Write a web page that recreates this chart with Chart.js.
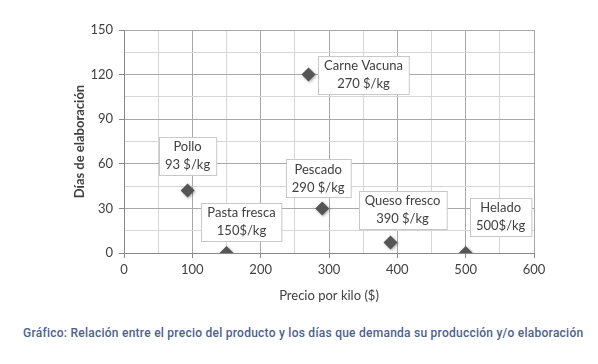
<!DOCTYPE html>
<html><head><meta charset="utf-8">
<script src="https://cdn.jsdelivr.net/npm/chart.js@4.4.1/dist/chart.umd.min.js"></script>
<style>
html,body{margin:0;padding:0;background:#fff;width:598px;height:364px;overflow:hidden}
#wrap{position:absolute;left:0;top:0;width:598px;height:310px}
#cap{position:absolute;left:23px;top:326px;font-family:Roboto,sans-serif;font-size:12px;font-weight:500;letter-spacing:0.25px;color:#4d6190;white-space:nowrap}
</style></head><body>
<div id="wrap"><canvas id="c" width="598" height="310"></canvas></div>
<div id="cap">Gráfico: Relación entre el precio del producto y los días que demanda su producción y/o elaboración</div>
<script>
const products = ['Carne Vacuna','Pollo','Pasta fresca','Pescado','Queso fresco','Helado'];
const priceLabels = ['270 $/kg','93 $/kg','150$/kg','290 $/kg','390 $/kg','500$/kg'];
const prices = [270, 93, 150, 290, 390, 500];
const days = [120, 42, 0, 30, 7, 0];
const xTickValues = [0, 100, 200, 300, 400, 500, 600];
const yTickValues = [0, 30, 60, 90, 120, 150];

// label box offsets (style, pixels relative to marker)
const labelOffsets = [[55,0],[0,-35],[15,-31],[-4,-30],[12,-33],[35,-36]];

const FONT = 'Lato, "Open Sans", sans-serif';
const TXT = '#404040';

const labelPlugin = {
  id: 'boxLabels',
  afterDatasetsDraw(chart) {
    const ctx = chart.ctx;
    const xs = chart.scales.x, ys = chart.scales.y;
    ctx.save();
    ctx.font = '13px ' + FONT;
    ctx.textAlign = 'center';
    ctx.textBaseline = 'middle';
    prices.forEach((p, i) => {
      const px = xs.getPixelForValue(p), py = ys.getPixelForValue(days[i]);
      const cx = px + labelOffsets[i][0], cy = py + labelOffsets[i][1];
      const w = Math.max(ctx.measureText(products[i]).width, ctx.measureText(priceLabels[i]).width) + 12;
      const h = 38;
      const l = Math.round(cx - w/2) + 0.5, t = Math.round(cy - h/2) + 0.5;
      ctx.fillStyle = '#fff';
      ctx.fillRect(l, t, w, h);
      ctx.strokeStyle = '#c8c8c8';
      ctx.lineWidth = 1;
      ctx.strokeRect(l, t, w, h);
      ctx.fillStyle = TXT;
      ctx.fillText(products[i], cx, cy - 9);
      ctx.fillText(priceLabels[i], cx, cy + 9);
    });
    ctx.restore();
  }
};

const shadowPlugin = {
  id: 'shadow',
  beforeDatasetDraw(chart) {
    const ctx = chart.ctx;
    ctx.save();
    ctx.shadowColor = 'rgba(0,0,0,0.35)';
    ctx.shadowBlur = 3;
    ctx.shadowOffsetX = 1;
    ctx.shadowOffsetY = 1;
  },
  afterDatasetDraw(chart) { chart.ctx.restore(); }
};

new Chart(document.getElementById('c'), {
  type: 'scatter',
  data: {
    datasets: [{
      data: prices.map((p, i) => ({x: p, y: days[i]})),
      pointStyle: 'rectRot',
      pointRadius: 7,
      pointHoverRadius: 7,
      backgroundColor: '#555555',
      borderColor: '#555555',
      borderWidth: 0
    }]
  },
  options: {
    responsive: false,
    animation: false,
    events: [],
    layout: { padding: { top: 30, right: 64, left: 0, bottom: 0 } },
    plugins: { legend: { display: false }, tooltip: { enabled: false } },
    scales: {
      x: {
        type: 'linear', min: 0, max: 600,
        afterFit(s) { s.height = 57; },
        ticks: {
          stepSize: 50, color: TXT, font: { family: FONT, size: 13 }, padding: 4,
          callback: v => xTickValues.includes(v) ? String(v) : ''
        },
        grid: {
          color: c => (c.tick && c.tick.value % 100 === 0) ? '#a8a8a8' : '#d6d6d6',
          tickColor: c => (c.tick && c.tick.value % 100 === 0) ? '#888' : 'rgba(0,0,0,0)',
          tickLength: 5
        },
        border: { color: '#888', width: 1 },
        title: { display: true, text: 'Precio por kilo ($)', color: TXT, font: { family: FONT, size: 13 }, padding: { top: 0, bottom: 6 } }
      },
      y: {
        type: 'linear', min: 0, max: 150,
        afterFit(s) { s.width = 124; },
        ticks: {
          stepSize: 15, color: TXT, font: { family: FONT, size: 13 }, padding: 6,
          callback: v => yTickValues.includes(v) ? String(v) : ''
        },
        grid: {
          color: c => (c.tick && c.tick.value % 30 === 0) ? '#a8a8a8' : '#d6d6d6',
          tickColor: c => (c.tick && c.tick.value % 30 === 0) ? '#888' : 'rgba(0,0,0,0)',
          tickLength: 5
        },
        border: { color: '#888', width: 1 },
        title: { display: true, text: 'Días de elaboración', color: TXT, font: { family: FONT, size: 13, weight: 'bold' }, padding: { top: 72, bottom: 0 } }
      }
    }
  },
  plugins: [shadowPlugin, labelPlugin]
});
</script>
</body></html>
